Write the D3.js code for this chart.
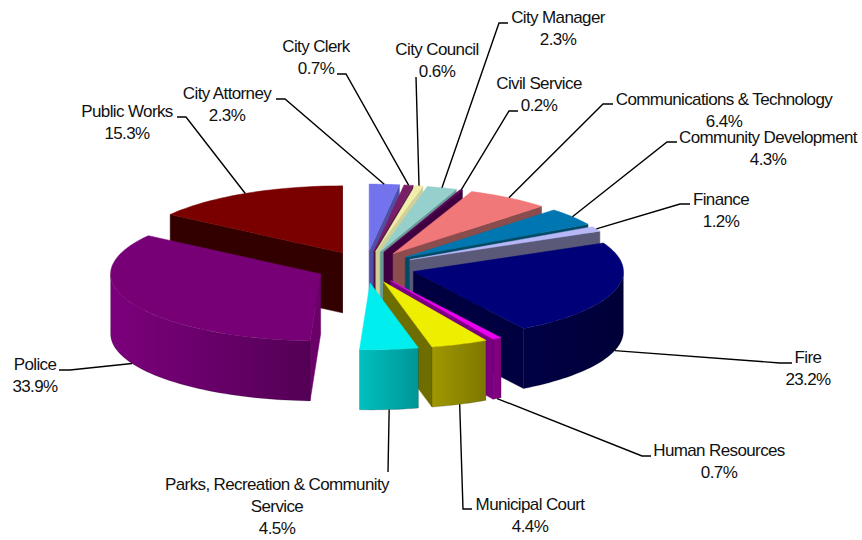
<!DOCTYPE html>
<html>
<head>
<meta charset="utf-8">
<script src="https://cdn.jsdelivr.net/npm/d3@7"></script>
<style>
  html, body { margin: 0; padding: 0; background: #fff; }
  text { font-family: "Liberation Sans", Arial, sans-serif; font-size: 17px; letter-spacing: -0.62px; fill: #111; }
</style>
</head>
<body>
<div id="chart"></div>
<script>
const departments = ['City Attorney', 'City Clerk', 'City Council', 'City Manager', 'Civil Service',
  'Communications & Technology', 'Community Development', 'Finance', 'Fire', 'Human Resources',
  'Municipal Court', 'Parks, Recreation & Community Service', 'Police', 'Public Works'];
const shares = [2.3, 0.7, 0.6, 2.3, 0.2, 6.4, 4.3, 1.2, 23.2, 0.7, 4.4, 4.5, 33.9, 15.3];

// colours, same order as departments
const topColors = ['#7373ee', '#7a1f66', '#f0eeaa', '#96d0cc', '#5c005c', '#f07878', '#0077b0',
  '#b8b8f8', '#000078', '#f000f0', '#eeee00', '#00eeee', '#780076', '#7a0000'];
const faceColors = ['#4f4fa8', '#4d1440', '#cfcf98', '#6a9a96', '#400040', '#8a4c4c', '#004a66',
  '#5a5a78', '#000040', '#7a0080', '#6e6e00', '#008f8f', '#6a0068', '#330000'];
const wallLeft = ['#4f4fa8', '#4d1440', '#cfcf98', '#6a9a96', '#400040', '#8a4c4c', '#004a66',
  '#5a5a78', '#000045', '#800080', '#a09800', '#00c0c0', '#7c007c', '#330000'];
const wallRight = ['#4f4fa8', '#4d1440', '#cfcf98', '#6a9a96', '#400040', '#8a4c4c', '#004a66',
  '#5a5a78', '#000038', '#800080', '#7c7800', '#009696', '#540056', '#330000'];

// label placement: centre x, baselines, then the leader's start and elbow
const labelLines = [['City Attorney', '2.3%'], ['City Clerk', '0.7%'], ['City Council', '0.6%'],
  ['City Manager', '2.3%'], ['Civil Service', '0.2%'], ['Communications & Technology', '6.4%'],
  ['Community Development', '4.3%'], ['Finance', '1.2%'], ['Fire', '23.2%'], ['Human Resources', '0.7%'],
  ['Municipal Court', '4.4%'], ['Parks, Recreation & Community', 'Service', '4.5%'], ['Police', '33.9%'],
  ['Public Works', '15.3%']];
const labelX = [227, 316, 437, 558, 539, 724, 768, 721, 808, 719, 530, 277, 35, 127];
const labelY = [99, 52, 55, 23, 89, 105, 143, 205, 363, 456, 510, 490, 370, 117];
const leaderStart = [[276, 99], [337, 74], [416, 77], [508, 23], [518, 111], [613, 104], [677, 142],
  [690, 204], [792, 363], [651, 456], [472, 509], [388, 472], [59, 370], [177, 117]];
const leaderElbow = [[285, 99], [346, 74], null, [499, 23], [509, 111], [603, 104], [667, 142],
  [680, 204], [780, 363], [642, 456], [463, 509], null, [70, 370], [186, 117]];

const width = 862, height = 540;
const centerX = 365.5, centerY = 267;
const radiusX = 210, radiusY = 67, depth = 60;
const explode = 0.238;

const sx = d3.scaleLinear().domain([-1, 1]).range([centerX - radiusX, centerX + radiusX]);
const sy = d3.scaleLinear().domain([-1, 1]).range([centerY - radiusY, centerY + radiusY]);

const svg = d3.select('#chart').append('svg')
  .attr('width', width)
  .attr('height', height);
const defs = svg.append('defs');

const slices = d3.pie().sort(null)(shares).map((d, i) => {
  const mid = (d.startAngle + d.endAngle) / 2;
  return { i, a0: d.startAngle, a1: d.endAngle, mid,
    ex: explode * Math.sin(mid), ey: -explode * Math.cos(mid) };
});

// ground plane point of a slice at angle a, t = 1 on the rim, t = 0 at the tip
function project(s, a, t, lift) {
  return [sx(s.ex + t * Math.sin(a)), sy(s.ey - t * Math.cos(a)) + lift];
}

function arcPoints(s, a0, a1, lift) {
  const n = Math.max(2, Math.ceil((a1 - a0) / 0.03));
  return d3.range(n + 1).map(k => project(s, a0 + (a1 - a0) * k / n, 1, lift));
}

const line = d3.line();
const closed = pts => line(pts) + 'Z';

// back slices first
const gPie = svg.append('g');
d3.sort(slices, s => -Math.cos(s.mid)).forEach(s => {
  const g = gPie.append('g');

  const grad = defs.append('linearGradient').attr('id', 'wall' + s.i);
  grad.append('stop').attr('offset', '0%').attr('stop-color', wallLeft[s.i]);
  grad.append('stop').attr('offset', '100%').attr('stop-color', wallRight[s.i]);

  // the flat cut faces
  if (Math.sin(s.a1) > 0) face(g, s, s.a1);
  if (Math.sin(s.a0) < 0) face(g, s, s.a0);

  // rim, only the part that faces the viewer
  const from = Math.max(s.a0, Math.PI / 2), to = Math.min(s.a1, 3 * Math.PI / 2);
  if (to > from) {
    g.append('path')
      .attr('d', closed(arcPoints(s, from, to, 0).concat(arcPoints(s, from, to, depth).reverse())))
      .attr('fill', `url(#wall${s.i})`)
      .attr('stroke', 'rgba(0,0,0,0.3)')
      .attr('stroke-width', 0.6);
  }

  g.append('path')
    .attr('d', closed([project(s, 0, 0, 0)].concat(arcPoints(s, s.a0, s.a1, 0))))
    .attr('fill', topColors[s.i])
    .attr('stroke', topColors[s.i])
    .attr('stroke-width', 0.5);
});

function face(g, s, a) {
  const tip = project(s, 0, 0, 0), rim = project(s, a, 1, 0);
  g.append('path')
    .attr('d', closed([tip, rim, [rim[0], rim[1] + depth], [tip[0], tip[1] + depth]]))
    .attr('fill', faceColors[s.i])
    .attr('stroke', faceColors[s.i])
    .attr('stroke-width', 0.5);
}

// leader lines end on the rim at the middle of the slice
const gLeaders = svg.append('g');
slices.forEach(s => {
  const front = Math.cos(s.mid) < 0;
  const end = project(s, s.mid, 1, front ? depth : 0);
  const pts = [leaderStart[s.i]];
  if (leaderElbow[s.i]) pts.push(leaderElbow[s.i]);
  pts.push(end);
  gLeaders.append('path')
    .attr('d', line(pts))
    .attr('fill', 'none')
    .attr('stroke', '#000')
    .attr('stroke-width', 1.4);
});

const gLabels = svg.append('g');
departments.forEach((name, i) => {
  const t = gLabels.append('text')
    .attr('text-anchor', 'middle')
    .attr('data-name', name);
  labelLines[i].forEach((txt, k) => {
    t.append('tspan')
      .attr('x', labelX[i])
      .attr('y', labelY[i] + k * 22)
      .text(txt);
  });
});
</script>
</body>
</html>
